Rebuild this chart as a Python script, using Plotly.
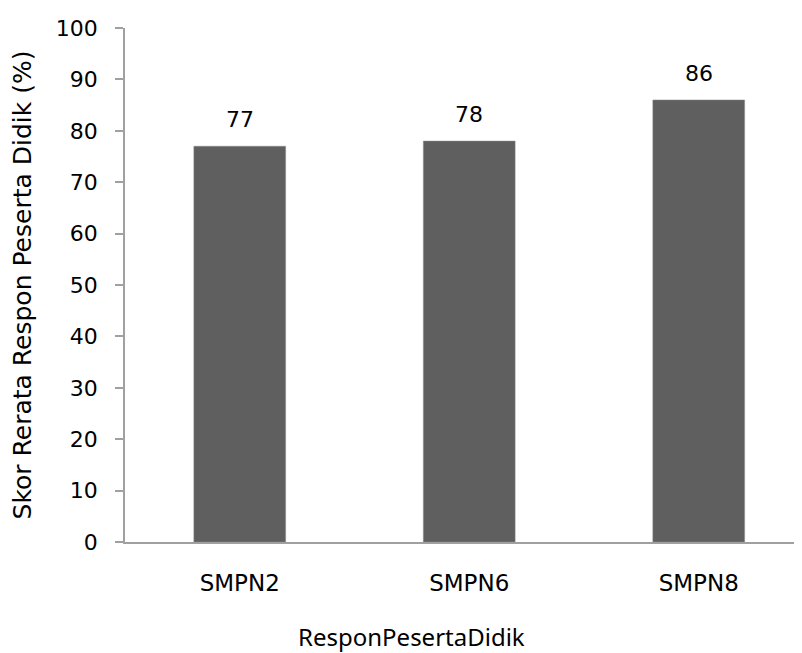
import plotly.graph_objects as go

categories = ["SMPN2", "SMPN6", "SMPN8"]
values = [77, 78, 86]
y_ticks = [0, 10, 20, 30, 40, 50, 60, 70, 80, 90, 100]

fig = go.Figure()
fig.add_trace(go.Bar(
    x=categories, y=values, width=0.4,
    marker=dict(color="#5f5f5f", line=dict(color="#8a8a8a", width=0.5)),
    hoverinfo="skip",
))
for c, v in zip(categories, values):
    fig.add_annotation(x=c, y=v, text=str(v), showarrow=False, yanchor="bottom",
                       yshift=12, font=dict(family="DejaVu Sans", size=22, color="#000"))

fig.add_annotation(xref="paper", yref="paper", x=0.4225, y=-0.184,
                   xanchor="center", yanchor="middle", showarrow=False,
                   text="ResponPesertaDidik",
                   font=dict(family="Noto Sans", size=24, color="#000"))

fig.update_layout(
    width=802, height=653,
    margin=dict(l=117, r=8, t=16, b=119),
    paper_bgcolor="white", plot_bgcolor="white",
    showlegend=False,
)
fig.update_xaxes(
    range=[-0.5, 2.45], showline=True, linecolor="#a0a0a0", linewidth=1.5,
    ticks="", showgrid=False, ticklabelstandoff=20,
    tickfont=dict(family="DejaVu Sans", size=23, color="#000"),
)
fig.update_yaxes(
    range=[0, 100], tickvals=y_ticks, showline=True, linecolor="#a0a0a0", linewidth=1.5,
    ticks="outside", ticklen=8, tickcolor="#a0a0a0", tickwidth=1.5, showgrid=False,
    zeroline=False, ticklabelstandoff=13,
    tickfont=dict(family="DejaVu Sans", size=22, color="#000"),
    title=dict(text="Skor Rerata Respon Peserta Didik (%)", standoff=19,
               font=dict(family="DejaVu Sans", size=25, color="#000")),
)
fig.write_html("out.html")
